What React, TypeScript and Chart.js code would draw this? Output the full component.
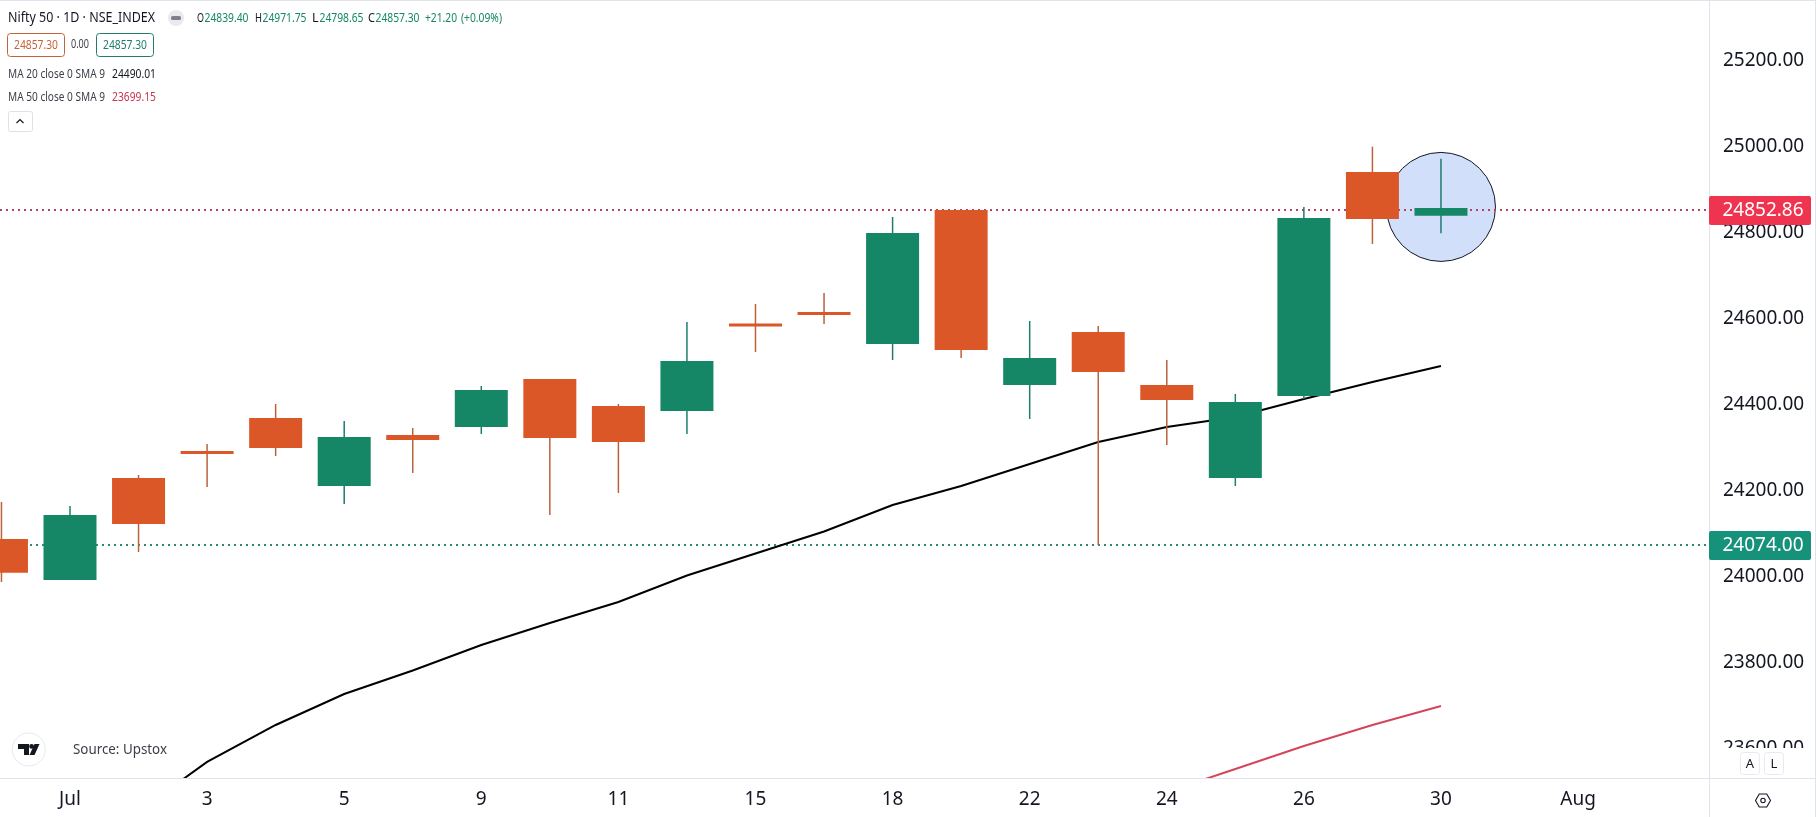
import React, { useEffect, useRef } from "react";
import { Chart, registerables } from "chart.js";

Chart.register(...registerables);

const candleIndex = [0, 1, 2, 3, 4, 5, 6, 7, 8, 9, 10, 11, 12, 13, 14, 15, 16, 17, 18, 19, 20, 21];
const opens = [24087.8, 23992.4, 24229.6, 24292.4, 24369.2, 24211, 24329.6, 24348.2, 24459.9, 24397.1, 24385.4, 24588.9, 24615.7, 24541.3, 24852.86, 24445.9, 24569.2, 24445.9, 24229.6, 24420.3, 24941.2, 24839.4];
const closes = [24009.4, 24143.6, 24122.7, 24285.4, 24299.4, 24325, 24318, 24434.3, 24322.7, 24313.4, 24501.7, 24582, 24608.7, 24799.4, 24527.3, 24508.7, 24476.2, 24411, 24406.4, 24834.3, 24832, 24857.3];
const highs = [24173.8, 24164.5, 24236.6, 24308.7, 24401.7, 24362.2, 24345.9, 24443.6, 24459.9, 24401.7, 24592.4, 24634.3, 24659.9, 24836.6, 24852.86, 24594.8, 24583.1, 24504, 24425, 24859.8, 25000, 24971.75];
const lows = [23987.8, 23992.4, 24057.5, 24208.7, 24280.8, 24169.2, 24241.3, 24331.9, 24143.6, 24194.8, 24331.9, 24522.7, 24587.8, 24504, 24508.7, 24366.9, 24074, 24306.4, 24211, 24413.4, 24773.9, 24798.65];

const ma20Index = [2, 3, 4, 5, 6, 7, 8, 9, 10, 11, 12, 13, 14, 15, 16, 17, 18, 19, 20, 21];
const ma20Values = [23455, 23569.2, 23655.2, 23727.3, 23782, 23841.3, 23892.4, 23941.3, 24002.9, 24054, 24105.2, 24166.9, 24211, 24262.2, 24313.4, 24348.2, 24371.5, 24413.4, 24452.9, 24490.01];
const ma50Index = [17, 18, 19, 20, 21];
const ma50Values = [23499.4, 23552.9, 23606.4, 23655.2, 23699.15];

const xTickIndex = [1, 3, 5, 7, 9, 11, 13, 15, 17, 19, 21, 23];
const xTickLabels = ["Jul", "3", "5", "9", "11", "15", "18", "22", "24", "26", "30", "Aug"];
const yTickValues = [23600, 23800, 24000, 24200, 24400, 24600, 24800, 25000, 25200];

const resistance = 24852.86;
const support = 24074;
const highlightIndex = 21;
const highlightPrice = 24860;

const XMIN = -0.0212;
const XMAX = 24.91;
const YMIN = 23531.9;
const YMAX = 25341.2;

const GREEN = "#158766";
const ORANGE = "#DB5727";
const GREEN_WICK = "#1F7C6E";
const ORANGE_WICK = "#B9623C";
const FONT = '"Noto Sans", sans-serif';
const AXIS = "#e0e3eb";
const INK = "#131722";

const overlay = {
  id: "overlay",
  afterDraw(chart: any) {
    const c = chart.ctx as CanvasRenderingContext2D;
    const y = chart.scales.y;
    const text = (s: string, x: number, yy: number, size: number, color: string, align: CanvasTextAlign = "left", maxW?: number) => {
      c.font = `${size}px ${FONT}`;
      c.fillStyle = color;
      c.textAlign = align;
      c.textBaseline = "middle";
      if (maxW) c.fillText(s, x, yy, maxW);
      else c.fillText(s, x, yy);
    };
    const box = (x: number, yy: number, w: number, h: number, r: number, stroke: string, fill = "#fff") => {
      c.beginPath();
      c.roundRect(x + 0.5, yy + 0.5, w, h, r);
      c.fillStyle = fill;
      c.fill();
      c.lineWidth = 1;
      c.strokeStyle = stroke;
      c.stroke();
    };
    c.save();

    // panel lines
    c.strokeStyle = AXIS;
    c.lineWidth = 1;
    c.beginPath();
    c.moveTo(0, 778.5); c.lineTo(1816, 778.5);
    c.moveTo(1709.5, 0); c.lineTo(1709.5, 817);
    c.moveTo(1815.5, 0); c.lineTo(1815.5, 817);
    c.moveTo(0, 0.5); c.lineTo(1816, 0.5);
    c.stroke();

    // price tags
    const tag = (v: number, col: string) => {
      const p = y.getPixelForValue(v);
      c.fillStyle = col;
      c.beginPath();
      c.roundRect(1709, Math.round(p) - 14, 102, 29, 2);
      c.fill();
      text(v.toFixed(2), 1763, Math.round(p) + 1, 19, "#fff", "center");
    };
    tag(support, "#16917A");
    tag(resistance, "#EF3450");

    // A / L buttons over the clipped tick
    c.fillStyle = "#fff";
    c.fillRect(1710, 748, 105, 30);
    box(1740, 752, 19, 22, 3, "#e8eaf0");
    box(1764, 752, 19, 22, 3, "#e8eaf0");
    text("A", 1750, 764, 13, INK, "center");
    text("L", 1774, 764, 13, INK, "center");

    // settings icon
    c.strokeStyle = INK;
    c.lineWidth = 1.1;
    c.beginPath();
    for (let k = 0; k < 6; k++) {
      const a = (Math.PI / 3) * k;
      const px = 1763 + 7.5 * Math.cos(a);
      const py = 800.5 + 7.5 * Math.sin(a);
      if (k === 0) c.moveTo(px, py);
      else c.lineTo(px, py);
    }
    c.closePath();
    c.stroke();
    c.beginPath();
    c.arc(1763, 800.5, 2.2, 0, Math.PI * 2);
    c.stroke();

    // header
    text("Nifty 50 · 1D · NSE_INDEX", 8, 18, 14.5, INK, "left", 147);
    c.fillStyle = "#e9eaee";
    c.beginPath();
    c.arc(176, 18, 8, 0, Math.PI * 2);
    c.fill();
    c.fillStyle = "#7d808a";
    c.beginPath();
    c.roundRect(171, 16, 10, 4, 1.5);
    c.fill();
    const ohlc: [string, string, number][] = [
      ["O", "24839.40", 197], ["H", "24971.75", 255], ["L", "24798.65", 312], ["C", "24857.30", 368],
    ];
    ohlc.forEach(([k, val, x]) => {
      text(k, x, 18, 12.5, "#131722", "left", 7);
      text(val, x + 7.5, 18, 12.5, "#158766", "left", 44);
    });
    text("+21.20", 425, 18, 12.5, "#158766", "left", 32);
    text("(+0.09%)", 461, 18, 12.5, "#158766", "left", 41);

    box(7, 33, 57, 23, 3, "#C4633A");
    text("24857.30", 36, 45.5, 12.5, "#C4633A", "center", 44);
    text("0.00", 80, 45, 12, "#3b3e48", "center", 18);
    box(96, 33, 57, 23, 3, "#1F7C6E");
    text("24857.30", 125, 45.5, 12.5, "#1F7C6E", "center", 44);

    text("MA 20 close 0 SMA 9", 8, 74, 12.5, "#3b3e48", "left", 97);
    text("24490.01", 112, 74, 12.5, "#131722", "left", 44);
    text("MA 50 close 0 SMA 9", 8, 97, 12.5, "#3b3e48", "left", 97);
    text("23699.15", 112, 97, 12.5, "#C8364F", "left", 44);

    box(8, 111, 24, 20, 2, "#dfe1e6");
    c.strokeStyle = INK;
    c.lineWidth = 1.2;
    c.beginPath();
    c.moveTo(16.5, 123); c.lineTo(20, 119.5); c.lineTo(23.5, 123);
    c.stroke();

    // logo
    c.beginPath();
    c.arc(28.7, 749.5, 16.5, 0, Math.PI * 2);
    c.fillStyle = "#fff";
    c.fill();
    c.strokeStyle = "#e6e8ee";
    c.lineWidth = 1;
    c.stroke();
    c.fillStyle = "#131722";
    c.beginPath();
    c.moveTo(18, 744); c.lineTo(29, 744); c.lineTo(29, 755); c.lineTo(24, 755); c.lineTo(24, 749); c.lineTo(18, 749);
    c.closePath();
    c.fill();
    c.beginPath();
    c.arc(31.6, 746.4, 2.4, 0, Math.PI * 2);
    c.fill();
    c.beginPath();
    c.moveTo(34.5, 744); c.lineTo(39.5, 744); c.lineTo(34.5, 755); c.lineTo(29.5, 755);
    c.closePath();
    c.fill();
    text("Source: Upstox", 73, 750, 13.5, "#3b3e48", "left", 94);

    c.restore();
  },
};

export default function App() {
  const ref = useRef<HTMLCanvasElement>(null);
  useEffect(() => {
    const up = (i: number) => closes[i] >= opens[i];
    const chart = new Chart(ref.current as HTMLCanvasElement, {
      type: "bar",
      data: {
        datasets: [
          {
            type: "scatter",
            order: 10,
            data: [{ x: highlightIndex, y: highlightPrice }],
            pointRadius: 54.5,
            pointHoverRadius: 54.5,
            backgroundColor: "#D1DFFB",
            borderColor: "#131722",
            borderWidth: 1,
          },
          {
            type: "line",
            order: 9,
            data: [{ x: XMIN, y: resistance }, { x: XMAX, y: resistance }],
            borderColor: "#B5435F",
            borderWidth: 2,
            borderDash: [2, 4],
            pointRadius: 0,
          },
          {
            type: "line",
            order: 9,
            data: [{ x: XMIN, y: support }, { x: XMAX, y: support }],
            borderColor: "#2E8A76",
            borderWidth: 2,
            borderDash: [2, 4],
            pointRadius: 0,
          },
          {
            type: "line",
            order: 8,
            data: ma20Index.map((x, i) => ({ x, y: ma20Values[i] })),
            borderColor: "#000000",
            borderWidth: 2,
            pointRadius: 0,
            tension: 0,
          },
          {
            type: "line",
            order: 8,
            data: ma50Index.map((x, i) => ({ x, y: ma50Values[i] })),
            borderColor: "#D2455C",
            borderWidth: 2,
            pointRadius: 0,
            tension: 0,
          },
          {
            type: "bar",
            order: 7,
            grouped: false,
            barThickness: 1.5,
            inflateAmount: 0,
            data: candleIndex.map((x, i) => ({ x, y: [lows[i], highs[i]] })),
            backgroundColor: candleIndex.map((i) => (up(i) ? GREEN_WICK : ORANGE_WICK)),
          },
          {
            type: "bar",
            order: 6,
            grouped: false,
            barThickness: 53,
            inflateAmount: 0,
            data: candleIndex.map((x, i) => ({ x, y: [opens[i], closes[i]] })),
            backgroundColor: candleIndex.map((i) => (up(i) ? GREEN : ORANGE)),
          },
        ] as any,
      },
      options: {
        animation: false,
        responsive: false,
        events: [],
        layout: { padding: 0, autoPadding: false },
        plugins: { legend: { display: false }, tooltip: { enabled: false } },
        scales: {
          x: {
            type: "linear",
            offset: false,
            min: XMIN,
            max: XMAX,
            grid: { display: false, drawTicks: false, offset: false },
            border: { display: false },
            ticks: {
              padding: 10,
              maxRotation: 0,
              autoSkip: false,
              color: INK,
              font: { family: "Noto Sans", size: 19 },
              callback: (v: any) => {
                const k = xTickIndex.indexOf(Number(v));
                return k >= 0 ? xTickLabels[k] : "";
              },
            },
            afterBuildTicks: (s: any) => {
              s.ticks = xTickIndex.map((value) => ({ value }));
            },
            afterFit: (s: any) => {
              s.height = 39;
              s.paddingLeft = 0;
              s.paddingRight = 0;
              s.paddingTop = 0;
              s.paddingBottom = 0;
            },
          },
          y: {
            type: "linear",
            position: "right",
            offset: false,
            min: YMIN,
            max: YMAX,
            grid: { display: false, drawTicks: false, offset: false },
            border: { display: false },
            ticks: {
              padding: 14,
              autoSkip: false,
              color: INK,
              font: { family: "Noto Sans", size: 19 },
              callback: (v: any) => Number(v).toFixed(2),
            },
            afterBuildTicks: (s: any) => {
              s.ticks = yTickValues.map((value) => ({ value }));
            },
            afterFit: (s: any) => {
              s.width = 107;
              s.paddingLeft = 0;
              s.paddingRight = 0;
              s.paddingTop = 0;
              s.paddingBottom = 0;
            },
          },
        },
      } as any,
      plugins: [overlay],
    });
    return () => chart.destroy();
  }, []);
  return (
    <div style={{ position: "fixed", left: 0, top: 0, width: 1816, height: 817, background: "#fff" }}>
      <canvas ref={ref} width={1816} height={817} style={{ display: "block" }} />
    </div>
  );
}
